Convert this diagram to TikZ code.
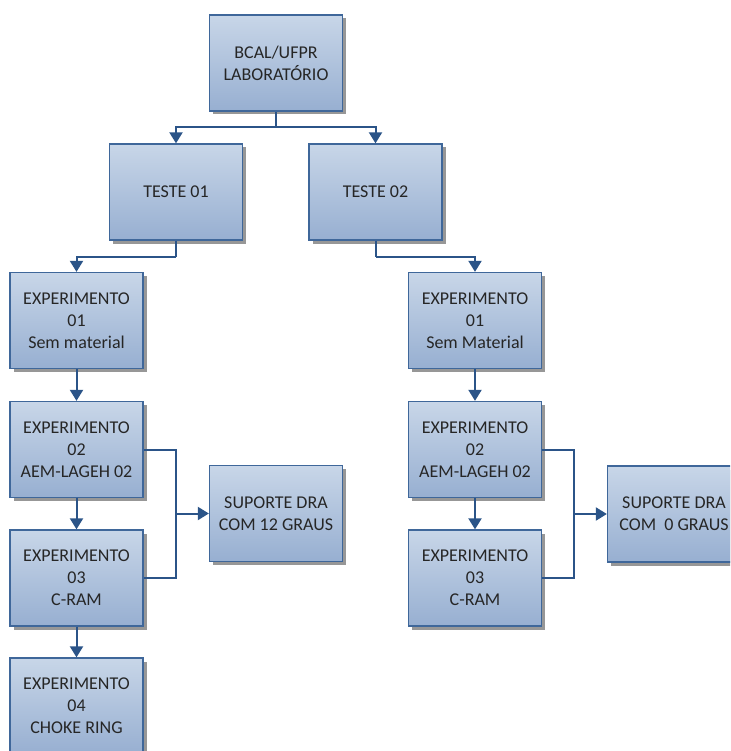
\documentclass[tikz,border=0pt]{standalone}
\usepackage{fontspec}
\setmainfont{Carlito}
\usetikzlibrary{shadows,arrows.meta}
\definecolor{boxtop}{HTML}{C8D6E8}
\definecolor{boxbot}{HTML}{97AFD1}
\definecolor{boxline}{HTML}{3F679A}
\definecolor{conn}{HTML}{2B5488}
\tikzset{
  box/.style={rectangle, minimum width=133pt, minimum height=96pt, inner sep=2pt,
    draw=boxline, line width=1.3pt, top color=boxtop, bottom color=boxbot,
    align=center, font=\fontsize{18}{22}\selectfont, text=black!85,
    drop shadow={shadow xshift=3.5pt, shadow yshift=-3.5pt, fill=black!45, opacity=0.9}},
  conline/.style={draw=conn, line width=2pt},
  arr/.style={conline, -{Triangle[width=13pt,length=11pt]}}
}
\begin{document}
\begin{tikzpicture}[x=1pt,y=-1pt]
\useasboundingbox (0,0) rectangle (730,751);
\clip (0,0) rectangle (730,751);
\node[box] (top) at (276,63) {BCAL/UFPR\\LABORATÓRIO};
\node[box] (t1) at (176,192) {TESTE 01};
\node[box] (t2) at (375.5,192) {TESTE 02};
\node[box] (l1) at (76.5,320.5) {EXPERIMENTO\\01\\Sem material};
\node[box] (l2) at (76.5,449.5) {EXPERIMENTO\\02\\AEM-LAGEH 02};
\node[box] (l3) at (76.5,578) {EXPERIMENTO\\03\\C-RAM};
\node[box] (l4) at (76.5,706) {EXPERIMENTO\\04\\CHOKE RING};
\node[box] (s12) at (276,513.5) {SUPORTE DRA\\COM 12 GRAUS};
\node[box] (r1) at (475,320.5) {EXPERIMENTO\\01\\Sem Material};
\node[box] (r2) at (475,449.5) {EXPERIMENTO\\02\\AEM-LAGEH 02};
\node[box] (r3) at (475,578) {EXPERIMENTO\\03\\C-RAM};
\node[box] (s0) at (674,514) {SUPORTE DRA\\COM\ \ 0 GRAUS};

\coordinate (tj) at (276,127);
\draw[conline] (top.south) -- (tj);
\draw[arr] (tj) -| (t1.north);
\draw[arr] (tj) -| (t2.north);

\coordinate (lj) at (176,256.5);
\draw[conline] (t1.south) -- (lj);
\draw[arr] (lj) -| (l1.north);
\coordinate (rj) at (375.5,256.5);
\draw[conline] (t2.south) -- (rj);
\draw[arr] (rj) -| (r1.north);

\draw[arr] (l1.south) -- (l2.north);
\draw[arr] (l2.south) -- (l3.north);
\draw[arr] (l3.south) -- (l4.north);
\draw[arr] (r1.south) -- (r2.north);
\draw[arr] (r2.south) -- (r3.north);

\coordinate (lb) at (176,513.5);
\draw[conline] (l2.east) -| (lb) |- (l3.east);
\draw[arr] (lb) -- (s12.west);
\coordinate (rb) at (574,514);
\draw[conline] (r2.east) -| (rb) |- (r3.east);
\draw[arr] (rb) -- (s0.west);
\end{tikzpicture}
\end{document}
